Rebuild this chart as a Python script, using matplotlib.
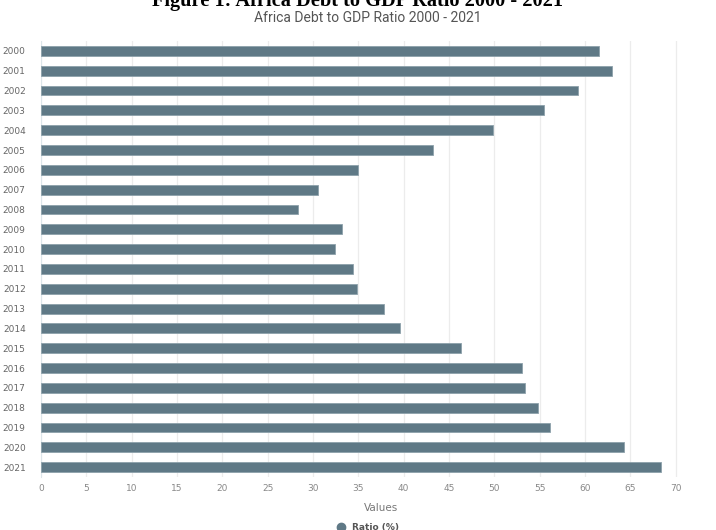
import matplotlib.pyplot as plt
from matplotlib.lines import Line2D

# Africa debt to GDP ratio (%)
years = [str(y) for y in range(2000, 2022)]
ratio = [61.5, 63.0, 59.2, 55.5, 49.9, 43.2, 35.0, 30.5, 28.4, 33.2, 32.4,
         34.4, 34.8, 37.8, 39.6, 46.3, 53.0, 53.4, 54.8, 56.1, 64.3, 68.4]
x_ticks = list(range(0, 80, 5))

bar_color = "#5f7986"
text_color = "#666666"

fig = plt.figure(figsize=(7.16, 5.30), dpi=100)
ax = fig.add_axes([41 / 716, 53 / 530, 680 / 716, 436 / 530])

ax.barh(years, ratio, height=0.5, color=bar_color, edgecolor="#8da1ab", linewidth=0.6, zorder=3)
ax.set_ylim(len(years) - 0.5, -0.5)
ax.set_xlim(0, 75)
ax.set_xticks(x_ticks)
ax.grid(axis="x", color="#ececec", linewidth=0.9, zorder=0)

for side in ["top", "right", "bottom"]:
    ax.spines[side].set_visible(False)
ax.spines["left"].set_color("#dde6ea")
ax.tick_params(axis="both", length=0, colors=text_color, labelsize=6.5)
ax.tick_params(axis="y", pad=11)
ax.tick_params(axis="x", pad=5, colors="#888888")

ax.set_xlabel("Values", fontsize=7.5, color="#777777", labelpad=7)

# Headings (the top one is cut by the page edge in the reference)
fig.text(0.5, 0.9895, "Figure 1: Africa Debt to GDP Ratio 2000 - 2021",
         ha="center", va="baseline", fontsize=14.7, fontweight="bold",
         family="Liberation Serif", color="black")
fig.text(0.514, 0.966, "Africa Debt to GDP Ratio 2000 - 2021",
         ha="center", va="center", fontsize=10, family="Roboto", color="#555555")

handle = Line2D([], [], marker="o", linestyle="", color=bar_color, markersize=6)
leg = fig.legend(handles=[handle], labels=["Ratio (%)"], loc="center",
                 bbox_to_anchor=(0.51, 0.004), frameon=False,
                 handletextpad=0.2, prop={"weight": "bold", "size": 6.5})
for t in leg.get_texts():
    t.set_color("#555555")

fig.savefig("out.png", dpi=100)
